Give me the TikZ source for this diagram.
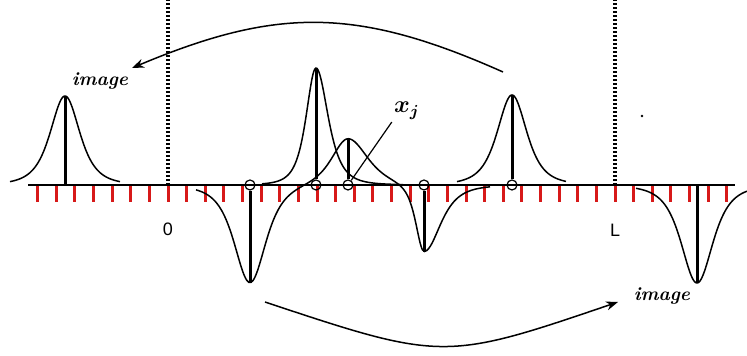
\documentclass[tikz,border=0pt]{standalone}
\usepackage{amsmath}
\usepackage{fontspec}
\usetikzlibrary{arrows.meta}
\newfontfamily\labelfont{Liberation Sans}
\definecolor{tickred}{RGB}{215,25,25}

\begin{document}
\begin{tikzpicture}[x=0.5pt, y=0.5pt,
   declare function={bump(\t,\w)=1/(1+(min(abs(\t/\w),9))^2)^2; ab(\t,\l,\r)=bump(\t,(\t<0)*\l+(\t>=0)*\r);},
   axisline/.style={line width=1pt},
   gridtick/.style={draw=tickred, line width=1.5pt},
   wave/.style={line width=0.75pt, samples=140},
   stem/.style={line width=1.5pt},
   part/.style={draw, circle, inner sep=0pt, minimum size=5pt, line width=0.6pt},
   wall/.style={line width=1.6pt, dash pattern=on 1pt off 1pt},
   coordlbl/.style={font=\fontsize{9}{11}\selectfont\labelfont},
   imglbl/.style={font=\fontsize{9.5}{11}\selectfont\bfseries\itshape},
   jump/.style={line width=0.75pt, -{Stealth[length=6pt, width=4.5pt]}}
]
\useasboundingbox (0,-171) rectangle (747,185);

% Walls at 0 and L
\draw[wall] (168,0) -- (168,185);
\draw[wall] (615,0) -- (615,185);

% Grid
\foreach \k in {-7,...,30}
  \draw[gridtick] ({168+18.625*\k},0) -- ++(0,-17);
\draw[axisline] (28,0) -- (735,0);

% Kernels
\draw[wave] plot[smooth, domain=10:120] (\x,{89*bump(\x-65,27)});
\draw[wave] plot[smooth, domain=262:403] (\x,{117*ab(\x-316,18,22)});
\draw[wave] plot[smooth, domain=196:490]
  (\x,{-98*bump(\x-250,29)+47*ab(\x-348,30,36)-68*ab(\x-424,15,30)});
\draw[wave] plot[smooth, domain=457:566] (\x,{90*bump(\x-512,27)});
\draw[wave] plot[smooth, domain=636:747] (\x,{-98*bump(\x-697,29)});

% Particles
\node[part] (p1) at (250,0) {};
\node[part] (p2) at (316,0) {};
\node[part] (p3) at (348,0) {};
\node[part] (p4) at (424,0) {};
\node[part] (p5) at (512,0) {};

% Stems
\draw[stem] (65,0) -- (65,89);
\draw[stem] (p1) -- ++(0,-98);
\draw[stem] (p2) -- ++(0,117);
\draw[stem] (p3) -- ++(0,46);
\draw[stem] (p4) -- ++(0,-67);
\draw[stem] (p5) -- ++(0,90);
\draw[stem] (697,0) -- (697,-98);

% Labels
\node[imglbl] (imgL) at (100,104) {image};
\node[imglbl] (imgR) at (662,-111) {image};
\node[coordlbl] (zero) at (168,-44) {0};
\node[coordlbl] (len) at (615,-45) {L};
\node[inner sep=1pt, font=\large] (xj) at (407,74) {$\boldsymbol{x_j}$};
\draw[line width=0.6pt] (p3) -- (xj.south west);
\fill (642,69) circle (0.7pt);

% Arrows
\coordinate (from1) at (503,113);
\coordinate (to1) at (132,117);
\coordinate (from2) at (265,-117);
\coordinate (to2) at (618,-117);
\draw[jump] (from1) .. controls (357,178) and (277,178) .. (to1);
\draw[jump] (from2) .. controls (442,-176) and (445,-176) .. (to2);
\end{tikzpicture}
\end{document}
